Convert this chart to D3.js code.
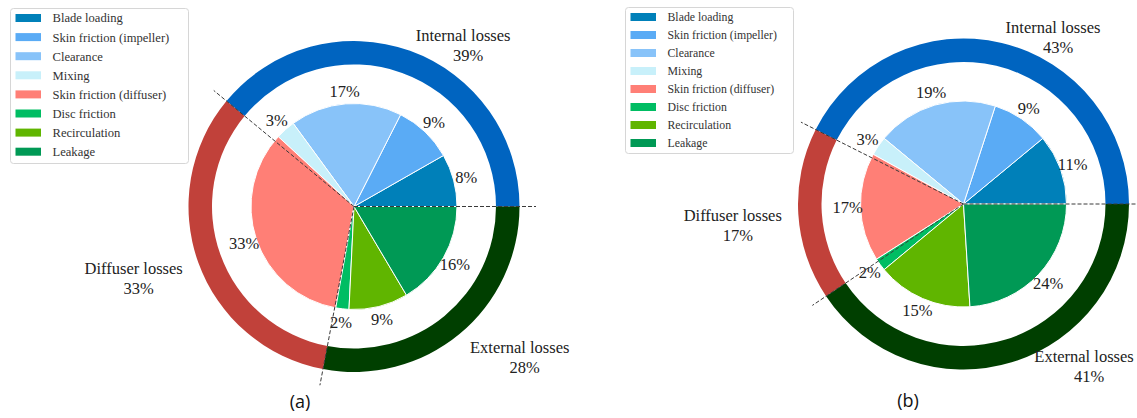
<!DOCTYPE html>
<html>
<head>
<meta charset="utf-8">
<script src="https://cdn.jsdelivr.net/npm/d3@7"></script>
<style>
  html, body { margin: 0; padding: 0; background: #fff; }
  svg { display: block; }
</style>
</head>
<body>
<svg id="chart" width="1137" height="418"></svg>
<script>
// Loss categories (inner pie) and their colours
const lossNames = [
  "Blade loading", "Skin friction (impeller)", "Clearance", "Mixing",
  "Skin friction (diffuser)", "Disc friction", "Recirculation", "Leakage"
];
const lossColors = [
  "#0080b9", "#5aabf5", "#88c3f9", "#c8f0fa",
  "#ff7f76", "#00bd63", "#60b500", "#009955"
];

// Loss groups (outer ring) and their colours
const groupNames = ["Internal losses", "Diffuser losses", "External losses"];
const groupColors = ["#0064c0", "#c1413a", "#003f00"];

// Panel (a) shares, in %
const lossesA = [8, 9, 17, 3, 33, 2, 9, 16];
const groupsA = [39, 33, 28];

// Panel (b) shares, in %
const lossesB = [11, 9, 19, 3, 17, 2, 15, 24];
const groupsB = [43, 17, 41];

const panelCaptions = ["(a)", "(b)"];

const svg = d3.select("#chart");
const serif = "'Liberation Serif', 'Times New Roman', serif";

// Layout of each panel
const panels = [
  {
    losses: lossesA, groups: groupsA, caption: panelCaptions[0],
    cx: 354, cy: 206.5, captionX: 300, captionY: 408,
    legend: { x: 10.5, y: 8.5, w: 178, h: 155, row: 19.1, font: 12.6 },
    labelNudge: [[0, 0], [0, 0], [0, 0]]
  },
  {
    losses: lossesB, groups: groupsB, caption: panelCaptions[1],
    cx: 963.5, cy: 204, captionX: 908, captionY: 407,
    legend: { x: 625.5, y: 7.5, w: 168, h: 146, row: 18, font: 11.8 },
    labelNudge: [[0, 0], [0, 0], [8, -14]]
  }
];

const pieR = 103, ringInner = 142, ringOuter = 165.5;
const pieLabelR = 116, ringLabelR = 182, guideR = 182;

// Counter-clockwise from 3 o'clock
const pie = d3.pie().sort(null).value(d => d)
  .startAngle(Math.PI / 2).endAngle(Math.PI / 2 - 2 * Math.PI);

const pieArc = d3.arc().innerRadius(0).outerRadius(pieR);
const ringArc = d3.arc().innerRadius(ringInner).outerRadius(ringOuter);

const polar = (a, r) => [r * Math.sin(a), -r * Math.cos(a)];

panels.forEach(p => {
  const g = svg.append("g").attr("transform", `translate(${p.cx},${p.cy})`);

  // outer ring: loss groups
  const ring = pie(p.groups);
  g.selectAll("path.ring").data(ring).enter().append("path")
    .attr("class", "ring")
    .attr("d", ringArc)
    .attr("fill", (d, i) => groupColors[i]);

  // inner pie: individual losses
  const slices = pie(p.losses);
  g.selectAll("path.slice").data(slices).enter().append("path")
    .attr("class", "slice")
    .attr("d", pieArc)
    .attr("fill", (d, i) => lossColors[i])
    .attr("stroke", "#fff")
    .attr("stroke-width", 1)
    .attr("stroke-linejoin", "round");

  // dashed guides at the group boundaries
  ring.forEach(d => {
    const [x, y] = polar(d.startAngle, guideR);
    g.append("line")
      .attr("x1", 0).attr("y1", 0).attr("x2", x).attr("y2", y)
      .attr("stroke", "#3a3a3a").attr("stroke-width", 1)
      .attr("stroke-dasharray", "4,2");
  });

  // pie labels
  slices.forEach((d, i) => {
    const [x, y] = polar((d.startAngle + d.endAngle) / 2, pieLabelR);
    g.append("text")
      .attr("x", x).attr("y", y)
      .attr("text-anchor", "middle")
      .attr("dy", "0.35em")
      .attr("font-family", serif).attr("font-size", 16.5)
      .attr("fill", "#222")
      .text(p.losses[i] + "%");
  });

  // ring labels: name with the share underneath
  ring.forEach((d, i) => {
    const nudge = p.labelNudge[i];
    const a = (d.startAngle + d.endAngle) / 2 - nudge[0] * Math.PI / 180;
    const [x, y] = polar(a, ringLabelR + nudge[1]);
    const right = x > 0;
    const t = g.append("text")
      .attr("x", x).attr("y", y)
      .attr("text-anchor", right ? "start" : "end")
      .attr("dy", "0.35em")
      .attr("font-family", serif).attr("font-size", 16.5)
      .attr("fill", "#222")
      .text(groupNames[i]);
    const w = t.node().getComputedTextLength();
    const mid = right ? x + w / 2 : x - w / 2;
    g.append("text")
      .attr("x", mid + 5).attr("y", y + 20)
      .attr("text-anchor", "middle")
      .attr("dy", "0.35em")
      .attr("font-family", serif).attr("font-size", 16.5)
      .attr("fill", "#222")
      .text(p.groups[i] + "%");
  });

  // legend
  const L = p.legend;
  const lg = svg.append("g").attr("transform", `translate(${L.x},${L.y})`);
  lg.append("rect")
    .attr("width", L.w).attr("height", L.h)
    .attr("rx", 3)
    .attr("fill", "#fff").attr("stroke", "#d6d6d6").attr("stroke-width", 1);
  lossNames.forEach((name, i) => {
    const cy = 9.5 + i * L.row;
    lg.append("rect")
      .attr("x", 5).attr("y", cy - 4)
      .attr("width", 25.5).attr("height", 8)
      .attr("fill", lossColors[i]);
    lg.append("text")
      .attr("x", 42).attr("y", cy)
      .attr("dy", "0.35em")
      .attr("font-family", serif).attr("font-size", L.font)
      .attr("fill", "#333")
      .text(name);
  });

  // panel caption
  svg.append("text")
    .attr("x", p.captionX).attr("y", p.captionY)
    .attr("text-anchor", "middle")
    .attr("font-family", "'Open Sans', sans-serif").attr("font-size", 18)
    .attr("fill", "#111")
    .text(p.caption);
});
</script>
</body>
</html>
